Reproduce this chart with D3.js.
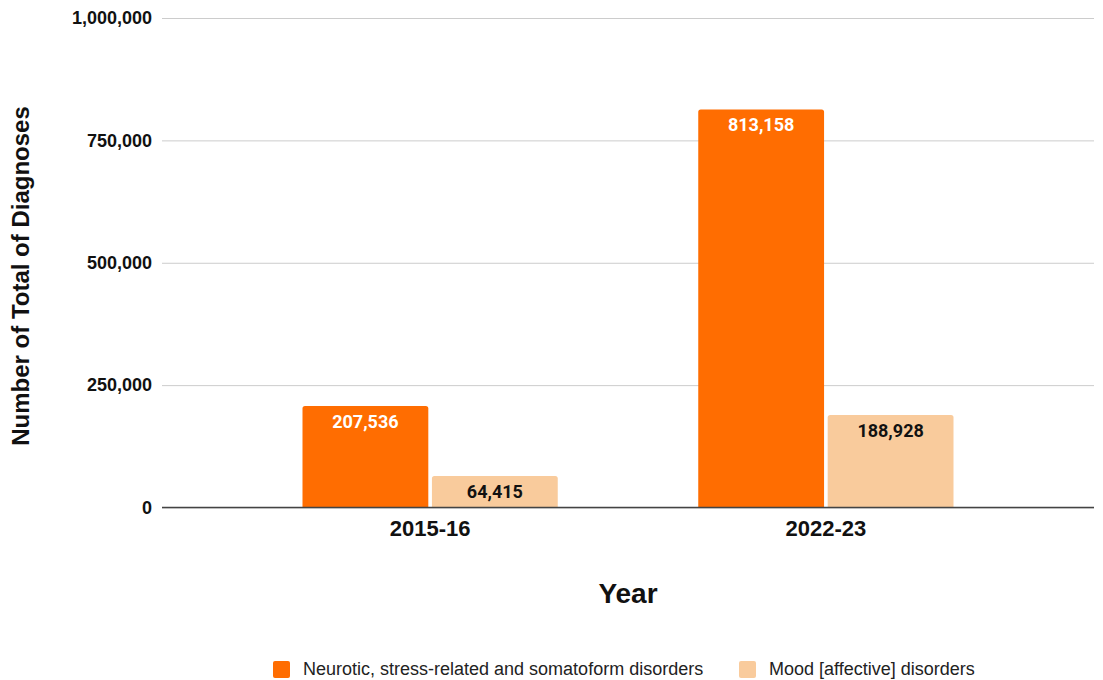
<!DOCTYPE html>
<html>
<head>
<meta charset="utf-8">
<script src="https://cdn.jsdelivr.net/npm/d3@7"></script>
<style>
  html, body { margin: 0; padding: 0; background: #fff; }
  svg { display: block; }
</style>
</head>
<body>
<svg id="chart" width="1103" height="680"></svg>
<script>
// Data
const years = ["2015-16", "2022-23"];
const seriesNames = ["Neurotic, stress-related and somatoform disorders", "Mood [affective] disorders"];
const neuroticValues = [207536, 813158];
const moodValues = [64415, 188928];
const yTicks = [0, 250000, 500000, 750000, 1000000];

const colors = ["#ff6d01", "#f9cb9c"];
const labelColors = ["#ffffff", "#111111"];

const svg = d3.select("#chart");
const plot = { left: 162, right: 1094, top: 18, bottom: 507.5 };

const x0 = d3.scaleBand().domain(years).range([plot.left, plot.right]).padding(0.355);
const x1 = d3.scaleBand().domain([0, 1]).range([0, x0.bandwidth()]).paddingInner(0.028);
const y = d3.scaleLinear().domain([0, 1000000]).range([plot.bottom, plot.top]);

const fmt = d3.format(",");

// Gridlines and y tick labels
const yAxis = d3.axisLeft(y).tickValues(yTicks).tickSize(-(plot.right - plot.left)).tickPadding(10).tickFormat(fmt);
const gy = svg.append("g").attr("transform", `translate(${plot.left},0)`).call(yAxis);
gy.select(".domain").remove();
gy.selectAll(".tick line").attr("stroke", "#cccccc").attr("stroke-width", 1);
gy.selectAll(".tick text")
  .attr("font-family", "Liberation Sans, Arial, sans-serif")
  .attr("font-weight", "bold")
  .attr("font-size", 18)
  .attr("fill", "#111");

// Bars
const rows = years.map((yr, i) => ({ year: yr, values: [neuroticValues[i], moodValues[i]] }));

function topRounded(x, yTop, w, h, r) {
  return `M${x},${yTop + h}V${yTop + r}Q${x},${yTop} ${x + r},${yTop}H${x + w - r}Q${x + w},${yTop} ${x + w},${yTop + r}V${yTop + h}Z`;
}

const groups = svg.append("g").selectAll("g").data(rows).join("g")
  .attr("transform", d => `translate(${x0(d.year)},0)`);

groups.selectAll("path").data(d => d.values.map((v, k) => ({ v, k }))).join("path")
  .attr("d", d => topRounded(x1(d.k), y(d.v), x1.bandwidth(), plot.bottom - y(d.v), 2.5))
  .attr("fill", d => colors[d.k]);

groups.selectAll("text").data(d => d.values.map((v, k) => ({ v, k }))).join("text")
  .attr("x", d => x1(d.k) + x1.bandwidth() / 2)
  .attr("y", d => y(d.v) + 22)
  .attr("text-anchor", "middle")
  .attr("font-family", "Roboto, sans-serif")
  .attr("font-weight", "bold")
  .attr("font-size", 18)
  .attr("fill", d => labelColors[d.k])
  .text(d => fmt(d.v));

// Baseline and x labels
const xAxis = d3.axisBottom(x0).tickSize(0).tickPadding(13);
const gx = svg.append("g").attr("transform", `translate(0,${plot.bottom})`).call(xAxis);
gx.select(".domain").attr("d", `M${plot.left},0H${plot.right}`).attr("stroke", "#444").attr("stroke-width", 1.5);
gx.selectAll(".tick text")
  .attr("font-family", "Liberation Sans, Arial, sans-serif")
  .attr("font-weight", "bold")
  .attr("font-size", 22)
  .attr("fill", "#111");

// Axis titles
svg.append("text")
  .attr("x", (plot.left + plot.right) / 2).attr("y", 603)
  .attr("text-anchor", "middle")
  .attr("font-family", "Liberation Sans, Arial, sans-serif")
  .attr("font-weight", "bold").attr("font-size", 28).attr("fill", "#111")
  .text("Year");

svg.append("text")
  .attr("transform", "translate(29,276) rotate(-90)")
  .attr("text-anchor", "middle")
  .attr("font-family", "Liberation Sans, Arial, sans-serif")
  .attr("font-weight", "bold").attr("font-size", 24).attr("fill", "#111")
  .text("Number of Total of Diagnoses");

// Legend
const legendX = [273, 739];
const legend = svg.append("g").selectAll("g").data(seriesNames).join("g")
  .attr("transform", (d, i) => `translate(${legendX[i]},661)`);
legend.append("rect").attr("width", 17).attr("height", 17).attr("rx", 2).attr("fill", (d, i) => colors[i]);
legend.append("text")
  .attr("x", 30).attr("y", 14)
  .attr("font-family", "Liberation Sans, Arial, sans-serif")
  .attr("font-size", 18).attr("fill", "#222")
  .text(d => d);
</script>
</body>
</html>
